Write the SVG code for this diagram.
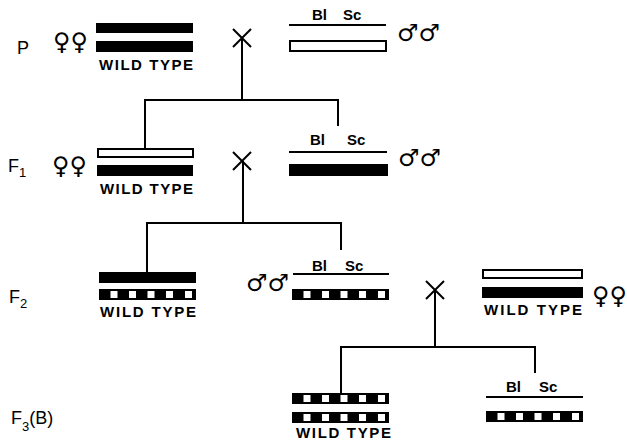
<svg xmlns="http://www.w3.org/2000/svg" xmlns:xlink="http://www.w3.org/1999/xlink" width="627" height="443" viewBox="0 0 627 443">
<style>
.lbl{font-family:"Liberation Sans",Arial,sans-serif;font-weight:bold;font-size:15px;fill:#000}
.gen{font-family:"Liberation Sans",Arial,sans-serif;font-size:18px;fill:#000}
.sex{font-family:"DejaVu Sans",sans-serif;font-size:24px;fill:#000}
.blk{fill:#000}
.wht{fill:#fff;stroke:#000;stroke-width:2}
.ln{fill:none;stroke:#000;stroke-width:2}
</style>
<defs>
<g id="pb">
<rect x="0" y="0" width="97" height="11" fill="#000"/>
<rect x="11.5" y="2" width="7" height="7" fill="#fff"/>
<rect x="30" y="2" width="7" height="7" fill="#fff"/>
<rect x="48.5" y="2" width="7" height="7" fill="#fff"/>
<rect x="67" y="2" width="7" height="7" fill="#fff"/>
<rect x="86" y="2" width="7" height="7" fill="#fff"/>
</g>
</defs>
<rect width="627" height="443" fill="#fff"/>

<g id="gen-labels">
<text class="gen" x="17" y="54" font-size="16">P</text>
<text class="gen" x="8" y="172">F<tspan font-size="13" dy="5">1</tspan></text>
<text class="gen" x="9" y="303">F<tspan font-size="13" dy="5">2</tspan></text>
<text class="gen" x="11" y="424">F<tspan font-size="13" dy="7">3</tspan><tspan dy="-7">(B)</tspan></text>
</g>

<g id="connectors">
<path class="ln" d="M233,29 L251,47 M251,29 L233,47 M242,38 V100"/>
<path class="ln" d="M145,148 V100 H338 V126"/>
<path class="ln" d="M233,152 L251,170 M251,152 L233,170 M243,161 V223"/>
<path class="ln" d="M147,272 V223 H341 V250"/>
<path class="ln" d="M426,281 L444,299 M444,281 L426,299 M435,290 V347"/>
<path class="ln" d="M341,394 V347 H535 V373"/>
</g>

<g id="p-female">
<text class="sex" x="53" y="50">♀♀</text>
<rect class="blk" x="96" y="23" width="97" height="10"/>
<rect class="blk" x="96" y="41" width="97" height="11"/>
<text class="lbl" x="99" y="70" textLength="94" lengthAdjust="spacing">WILD TYPE</text>
</g>

<g id="p-male">
<text class="lbl" x="312" y="20">Bl</text>
<text class="lbl" x="343" y="20">Sc</text>
<line class="ln" x1="289" y1="25" x2="386" y2="25"/>
<rect class="wht" x="290" y="41" width="96" height="10"/>
<text class="sex" x="397" y="41">♂♂</text>
</g>

<g id="f1-female">
<text class="sex" x="52" y="174">♀♀</text>
<rect class="wht" x="98" y="149" width="95" height="8"/>
<rect class="blk" x="97" y="165" width="96" height="11"/>
<text class="lbl" x="100" y="194" textLength="93" lengthAdjust="spacing">WILD TYPE</text>
</g>

<g id="f1-male">
<text class="lbl" x="310" y="145">Bl</text>
<text class="lbl" x="347" y="145">Sc</text>
<line class="ln" x1="289" y1="152" x2="387" y2="152"/>
<rect class="blk" x="289" y="164" width="99" height="12"/>
<text class="sex" x="398" y="166">♂♂</text>
</g>

<g id="f2-female-a">
<rect class="blk" x="99" y="272" width="97" height="11"/>
<use xlink:href="#pb" x="99" y="289"/>
<text class="lbl" x="100" y="317" textLength="96" lengthAdjust="spacing">WILD TYPE</text>
</g>

<g id="f2-male">
<text class="sex" x="246" y="291">♂♂</text>
<text class="lbl" x="312" y="271">Bl</text>
<text class="lbl" x="345" y="271">Sc</text>
<line class="ln" x1="293" y1="274" x2="389" y2="274"/>
<use xlink:href="#pb" x="292" y="289"/>
</g>

<g id="f2-female-b">
<rect class="wht" x="483" y="270" width="99" height="8"/>
<rect class="blk" x="482" y="287" width="101" height="11"/>
<text class="lbl" x="484" y="315" textLength="98" lengthAdjust="spacing">WILD TYPE</text>
<text class="sex" x="592" y="304">♀♀</text>
</g>

<g id="f3-female">
<use xlink:href="#pb" x="292" y="393"/>
<use xlink:href="#pb" x="292" y="412"/>
<text class="lbl" x="296" y="438" textLength="95" lengthAdjust="spacing">WILD TYPE</text>
</g>

<g id="f3-male">
<text class="lbl" x="506" y="392">Bl</text>
<text class="lbl" x="539" y="392">Sc</text>
<line class="ln" x1="486" y1="397" x2="583" y2="397"/>
<use xlink:href="#pb" x="486" y="411"/>
</g>
</svg>
